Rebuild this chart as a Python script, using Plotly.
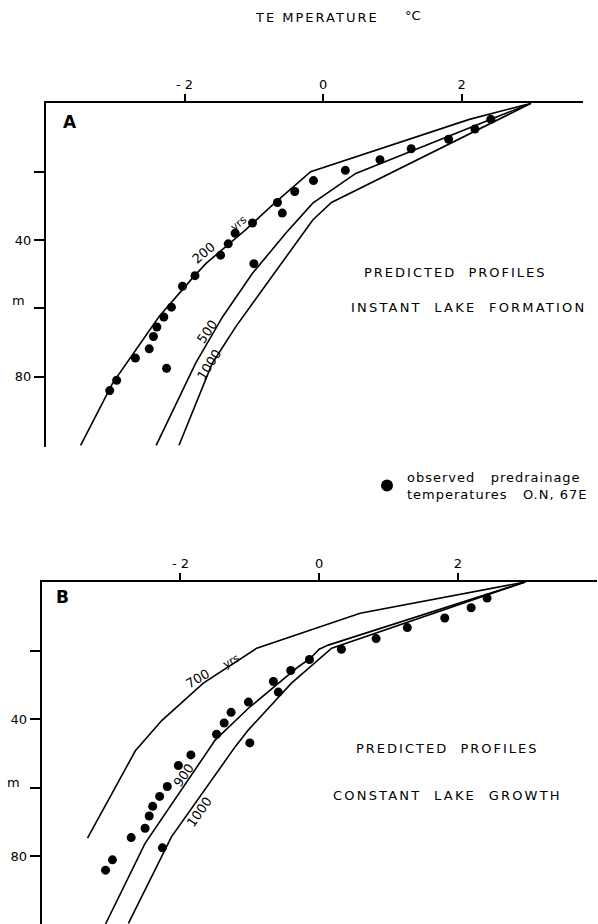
import plotly.graph_objects as go

W, H = 598, 924

# ---------------- data ----------------
# observed predrainage temperatures (°C) vs depth (m)
obs_temp = [2.42, 2.19, 1.81, 1.27, 0.82, 0.32, -0.14, -0.41, -0.66, -0.59, -1.02, -1.27, -1.37,
            -1.48, -1.00, -1.85, -2.03, -2.19, -2.30, -2.40, -2.45, -2.51, -2.71, -2.26, -2.98, -3.08]
obs_depth = [4.7, 7.5, 10.5, 13.3, 16.5, 19.6, 22.6, 25.8, 29.0, 32.1, 35.0, 38.0, 41.1,
             44.4, 46.9, 50.4, 53.5, 59.6, 62.5, 65.4, 68.2, 71.8, 74.5, 77.5, 81.0, 84.0]

# Panel A: instant lake formation
a200_temp = [3.0, 2.11, -0.18, -0.73, -1.12, -1.69, -1.89, -2.37, -3.04, -3.5]
a200_depth = [0, 4.7, 20, 29.7, 37, 46.8, 51.2, 62.4, 81.9, 100]
a500_temp = [3.0, 0.47, -0.15, -0.54, -1.02, -1.45, -1.84, -2.41]
a500_depth = [0, 20.5, 29.2, 38, 49.7, 62.4, 76, 100]
a1000_temp = [3.0, 0.12, -0.15, -0.78, -1.26, -1.6, -2.08]
a1000_depth = [0, 29, 34.1, 51.7, 65.3, 76, 100]

# Panel B: constant lake growth
b700_temp = [2.97, 0.59, -0.9, -1.67, -2.27, -2.65, -3.34]
b700_depth = [0, 9.1, 19.3, 29.5, 40.4, 49.2, 74.7]
b900_temp = [2.97, 0.13, 0.0, -0.13, -0.3, -1.02, -1.5, -2.51, -3.08]
b900_depth = [0, 18.4, 19.6, 22.3, 24.7, 36.8, 46.1, 76.2, 99.7]
b1000_temp = [2.97, 0.18, -0.40, -0.73, -1.02, -1.21, -2.13, -2.75]
b1000_depth = [0, 19.3, 29.5, 36.8, 43.1, 48.0, 74.3, 99.5]

x_tickvals = [-2, 0, 2]
x_ticktext = ["- 2", "0", "2"]
y_tickvals = [20, 40, 60, 80]
y_ticktext = ["", "40", "", "80"]

FONT = "DejaVu Sans"
LW = 1.6


def px(x):
    return x / W


def py(y):
    return 1 - y / H


def spaced(s, sp=2):
    return '<span style="letter-spacing:%spx">%s</span>' % (sp, s)


NB = "\u00a0"

fig = go.Figure()

line_style = dict(color="black", width=LW)
marker_style = dict(color="black", size=9)

# Panel A
for t, d in [(a200_temp, a200_depth), (a500_temp, a500_depth), (a1000_temp, a1000_depth)]:
    fig.add_trace(go.Scatter(x=t, y=d, mode="lines", line=line_style, xaxis="x", yaxis="y",
                             showlegend=False, hoverinfo="skip"))
fig.add_trace(go.Scatter(x=obs_temp, y=obs_depth, mode="markers", marker=marker_style,
                         xaxis="x", yaxis="y", showlegend=True,
                         name=spaced("observed" + NB * 3 + "predrainage", 1) + "<br>" +
                         spaced("temperatures" + NB * 3 + "O.N," + NB + "67E", 1)))

# Panel B
for t, d in [(b700_temp, b700_depth), (b900_temp, b900_depth), (b1000_temp, b1000_depth)]:
    fig.add_trace(go.Scatter(x=t, y=d, mode="lines", line=line_style, xaxis="x2", yaxis="y2",
                             showlegend=False, hoverinfo="skip"))
fig.add_trace(go.Scatter(x=obs_temp, y=obs_depth, mode="markers", marker=marker_style,
                         xaxis="x2", yaxis="y2", showlegend=False))

common_x = dict(side="top", showline=True, linecolor="black", linewidth=2, ticks="outside",
                ticklen=7, tickwidth=1.5, tickcolor="black", tickvals=x_tickvals,
                ticktext=x_ticktext, showgrid=False, zeroline=False,
                tickfont=dict(family=FONT, size=13, color="black"))
common_y = dict(showline=True, linecolor="black", linewidth=2, ticks="outside", ticklen=10,
                tickwidth=1.5, tickcolor="black", tickvals=y_tickvals, ticktext=y_ticktext,
                showgrid=False, zeroline=False,
                tickfont=dict(family=FONT, size=13, color="black"))

fig.update_layout(
    width=W, height=H,
    margin=dict(l=0, r=0, t=0, b=0),
    paper_bgcolor="white", plot_bgcolor="white",
    font=dict(family=FONT, color="black"),
    xaxis=dict(domain=[px(46), px(583)], range=[-4, 3.75], anchor="y", **common_x),
    yaxis=dict(domain=[py(447), py(103.3)], range=[100.5, 0], anchor="x", **common_y),
    xaxis2=dict(domain=[px(41.7), px(596.7)], range=[-4, 4], anchor="y2", **common_x),
    yaxis2=dict(domain=[0, py(582)], range=[99.7, 0], anchor="x2", **common_y),
    legend=dict(x=px(367), y=py(462), xanchor="left", yanchor="top",
                font=dict(family=FONT, size=13, color="black"),
                bgcolor="rgba(0,0,0,0)", itemsizing="constant"),
)

ann = []


def paper_text(text, x, y, size=12, bold=False):
    if bold:
        text = "<b>" + text + "</b>"
    ann.append(dict(text=text, x=px(x), y=py(y), xref="paper", yref="paper",
                    showarrow=False, xanchor="center", yanchor="middle",
                    font=dict(family=FONT, size=size, color="black")))


paper_text(spaced("TE" + NB + "MPERATURE", 2), 317, 18, 13)
paper_text("°C", 413, 15, 13)
paper_text("A", 70, 122, 17, bold=True)
paper_text("B", 62, 597, 17, bold=True)
paper_text("m", 18, 300, 13)
paper_text("m", 13, 782, 13)
paper_text(spaced("PREDICTED" + NB * 2 + "PROFILES", 2.0), 455, 272, 13)
paper_text(spaced("INSTANT" + NB * 2 + "LAKE" + NB * 2 + "FORMATION", 2.2), 468, 308, 13)
paper_text(spaced("PREDICTED" + NB * 2 + "PROFILES", 2.0), 448, 748, 13)
paper_text(spaced("CONSTANT" + NB * 2 + "LAKE" + NB * 2 + "GROWTH", 2.2), 448, 795, 13)


def line_label(text, x, y, angle, xr, yr, size=13):
    ann.append(dict(text=text, x=x, y=y, xref=xr, yref=yr, showarrow=False,
                    textangle=angle, xanchor="center", yanchor="middle",
                    font=dict(family=FONT, size=size, color="black")))


line_label("200", -1.72, 43.6, -40, "x", "y")
line_label("yrs", -1.22, 35.0, -40, "x", "y", 11)
line_label("500", -1.67, 66.8, -55, "x", "y")
line_label("1000", -1.64, 76.5, -58, "x", "y")
line_label("700", -1.75, 28.0, -30, "x2", "y2")
line_label("yrs", -1.27, 23.2, -30, "x2", "y2", 11)
line_label("900", -1.96, 56.3, -55, "x2", "y2")
line_label("1000", -1.72, 67.0, -55, "x2", "y2")

fig.update_layout(annotations=ann)

fig.write_html("out.html", config={"displayModeBar": False},
               post_script="document.body.style.margin='0';")
